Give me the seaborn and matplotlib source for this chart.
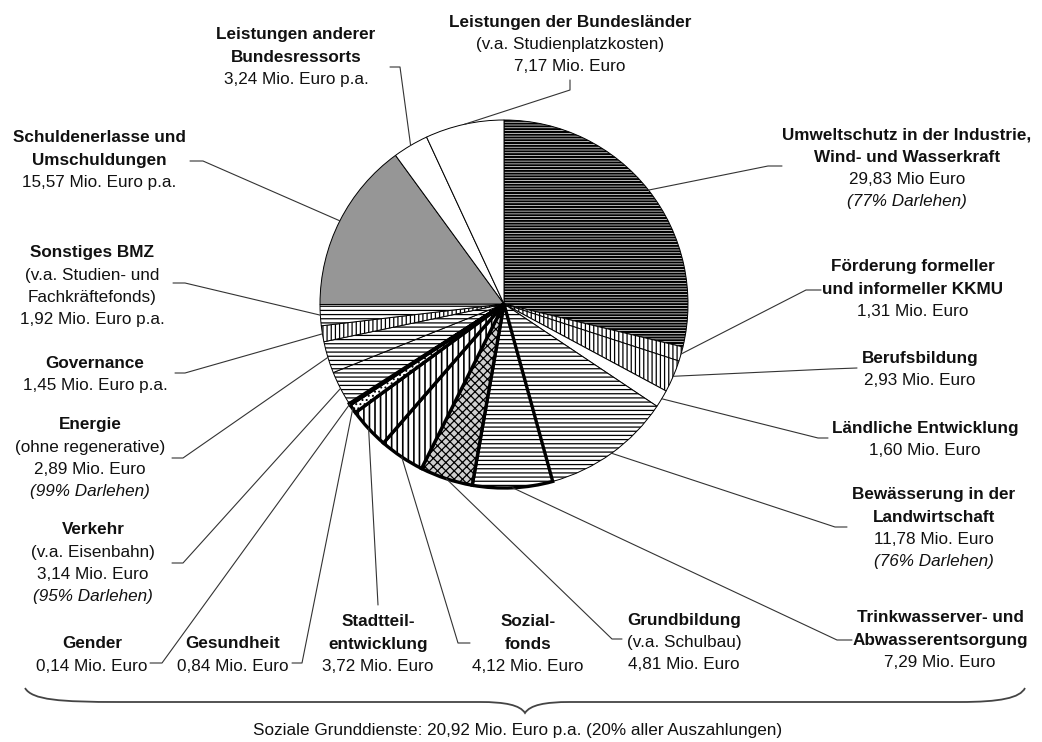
import matplotlib
matplotlib.use("Agg")
import numpy as np
import matplotlib.pyplot as plt
from matplotlib.path import Path
from matplotlib.patches import PathPatch
import seaborn as sns

# --- data (clockwise from 12 o'clock) ---
names = [
    "Umweltschutz in der Industrie,\nWind- und Wasserkraft",
    "Förderung formeller\nund informeller KKMU",
    "Berufsbildung",
    "Ländliche Entwicklung",
    "Bewässerung in der\nLandwirtschaft",
    "Trinkwasserver- und\nAbwasserentsorgung",
    "Grundbildung",
    "Sozial-\nfonds",
    "Stadtteil-\nentwicklung",
    "Gesundheit",
    "Gender",
    "Verkehr",
    "Energie",
    "Governance",
    "Sonstiges BMZ",
    "Schuldenerlasse und\nUmschuldungen",
    "Leistungen anderer\nBundesressorts",
    "Leistungen der Bundesländer",
]
notes = ["", "", "", "", "", "", "(v.a. Schulbau)", "", "", "", "",
         "(v.a. Eisenbahn)", "(ohne regenerative)", "",
         "(v.a. Studien- und\nFachkräftefonds)", "", "",
         "(v.a. Studienplatzkosten)"]
values = [29.83, 1.31, 2.93, 1.60, 11.78, 7.29, 4.81, 4.12, 3.72, 0.84,
          0.14, 3.14, 2.89, 1.45, 1.92, 15.57, 3.24, 7.17]
units = ["Mio Euro", "Mio. Euro", "Mio. Euro", "Mio. Euro", "Mio. Euro",
         "Mio. Euro", "Mio. Euro", "Mio. Euro", "Mio. Euro", "Mio. Euro",
         "Mio. Euro", "Mio. Euro", "Mio. Euro", "Mio. Euro p.a.",
         "Mio. Euro p.a.", "Mio. Euro p.a.", "Mio. Euro p.a.", "Mio. Euro"]
loan_pct = [77, None, None, None, 76, None, None, None, None, None, None,
            95, 99, None, None, None, None, None]
summary_text = "Soziale Grunddienste: 20,92 Mio. Euro p.a. (20% aller Auszahlungen)"

# --- styles ---
fills = ["white", "white", "white", "white", "white", "white", "#cfcfcf",
         "white", "white", "white", "white", "white", "white", "white",
         "white", "#969696", "white", "white"]
hatches = ["------", "||||", "||||", "", "----", "----", "xxxx", "|||", "|||",
           "....", "", "----", "----", "||||", "----", "", "", ""]
soziale = [5, 6, 7, 8, 9, 10]

# label layout: (centre x, first line y), leader elbow, leader end (pixels)
label_pos = [(907, 135), (913, 267), (920, 358), (925, 428), (934, 495),
             (940, 618), (684, 620), (528, 622), (378, 622), (233, 644),
             (92, 644), (93, 530), (90, 425), (95, 363), (92, 253),
             (99, 138), (296, 35), (570, 22)]
elbows = [(768, 166), (806, 290), (830, 369), (818, 438), (835, 527),
          (837, 640), (612, 639), (458, 643), (378, 605), (302, 663),
          (162, 663), (183, 563), (183, 458), (185, 373), (185, 283),
          (203, 161), (400, 67), (570, 90)]
ends = [(782, 166), (821, 290), (857, 368), (828, 438), (847, 527),
        (852, 640), (622, 639), (470, 643), (378, 605), (292, 663),
        (150, 663), (172, 563), (172, 458), (175, 373), (173, 283),
        (190, 161), (390, 67), (570, 80)]

W, H = 1042, 742
CX, CY, R = 504, 304, 184
FS = 12.3
LS = 22.3

sns.set_theme(style="white")
plt.rcParams["font.family"] = ["Liberation Sans", "DejaVu Sans"]
plt.rcParams["hatch.linewidth"] = 0.9

fig = plt.figure(figsize=(W / 100, H / 100), dpi=100)
ax = fig.add_axes([0, 0, 1, 1])

wedges, _ = ax.pie(values, startangle=-90, counterclock=True,
                   center=(CX, CY), radius=R, colors=fills,
                   wedgeprops=dict(edgecolor="black", linewidth=0.7))
for i, w in enumerate(wedges):
    w.set_hatch(hatches[i])
    if i in soziale:
        w.set_linewidth(2.4)
        w.set_zorder(3)
if hasattr(wedges[0], "set_hatch_linewidth"):
    wedges[0].set_hatch_linewidth(1.5)
    for i in (7, 8):
        wedges[i].set_hatch_linewidth(1.2)

ax.set_xlim(0, W)
ax.set_ylim(H, 0)
ax.axis("off")

# labels + leader lines
for i, w in enumerate(wedges):
    lines = [(t, "b") for t in names[i].split("\n")]
    if notes[i]:
        lines += [(t, "n") for t in notes[i].split("\n")]
    lines.append((f"{values[i]:.2f}".replace(".", ",") + " " + units[i], "n"))
    if loan_pct[i] is not None:
        lines.append((f"({loan_pct[i]}% Darlehen)", "i"))
    x0, y0 = label_pos[i]
    for k, (txt, st) in enumerate(lines):
        ax.text(x0, y0 + k * LS, txt, ha="center", va="center", fontsize=FS,
                fontweight="bold" if st == "b" else "normal",
                fontstyle="italic" if st == "i" else "normal",
                color="#111111")
    mid = np.deg2rad((w.theta1 + w.theta2) / 2)
    px, py = CX + R * np.cos(mid), CY + R * np.sin(mid)
    ex, ey = elbows[i]
    tx, ty = ends[i]
    ax.plot([px, ex, tx], [py, ey, ty], color="#333333", lw=0.8, zorder=4)

# curly brace under the Soziale Grunddienste labels
verts = [(25, 688), (32, 700), (60, 702), (120, 702), (480, 702),
         (505, 702), (520, 705), (525, 713),
         (530, 705), (545, 702), (570, 702), (960, 702),
         (1000, 702), (1020, 698), (1025, 688)]
codes = [Path.MOVETO, Path.CURVE4, Path.CURVE4, Path.CURVE4, Path.LINETO,
         Path.CURVE4, Path.CURVE4, Path.CURVE4,
         Path.CURVE4, Path.CURVE4, Path.CURVE4, Path.LINETO,
         Path.CURVE4, Path.CURVE4, Path.CURVE4]
ax.add_patch(PathPatch(Path(verts, codes), fill=False, edgecolor="#444444", lw=1.3))
ax.text(518, 731, summary_text, ha="center", va="center", fontsize=FS, color="#111111")

fig.savefig("out.png", dpi=100)
